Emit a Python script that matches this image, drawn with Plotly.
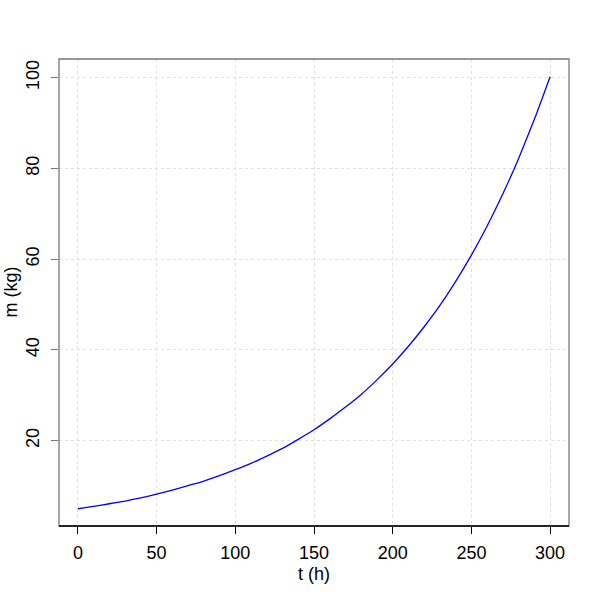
import plotly.graph_objects as go

t_h = [0, 10, 20, 30, 40, 50, 60, 70, 80, 90, 100, 110, 120, 130, 140, 150,
       160, 170, 180, 190, 200, 210, 220, 230, 240, 250, 260, 270, 280, 290, 300]
m_kg = [5.0, 5.5, 6.1, 6.7, 7.4, 8.2, 9.1, 10.1, 11.1, 12.3, 13.6, 15.0, 16.6, 18.3,
        20.3, 22.4, 24.8, 27.4, 30.2, 33.4, 36.9, 40.8, 45.1, 49.8, 55.1, 60.9,
        67.3, 74.4, 82.2, 90.8, 100.2]
x_ticks = [0, 50, 100, 150, 200, 250, 300]
y_ticks = [20, 40, 60, 80, 100]
x_title = "t (h)"
y_title = "m (kg)"

fig = go.Figure()
fig.add_trace(go.Scatter(x=t_h, y=m_kg, mode="lines",
                         line=dict(color="blue", width=1.3, shape="spline", smoothing=0.5),
                         showlegend=False))

fam = "Liberation Sans, Arial, sans-serif"
font = dict(family=fam, size=18, color="black")
fig.update_layout(
    width=600, height=600,
    margin=dict(l=59, r=31, t=59, b=74, autoexpand=False),
    plot_bgcolor="white", paper_bgcolor="white",
    font=font,
    xaxis=dict(range=[-12, 312], tickvals=x_ticks, ticks="outside", ticklen=7,
               tickcolor="black", showline=False, zeroline=False, automargin=False,
               showgrid=True, gridcolor="#e0e0e0", griddash="dot", gridwidth=1,
               ticklabelstandoff=3),
    yaxis=dict(range=[1.2, 104.1], tickvals=y_ticks, ticks="outside", ticklen=7,
               tickcolor="#777777", tickangle=-90, showline=False, zeroline=False,
               automargin=False,
               showgrid=True, gridcolor="#e0e0e0", griddash="dot", gridwidth=1,
               ticklabelstandoff=5),
)
fig.add_annotation(text=x_title, xref="paper", yref="paper", x=0.5, y=0,
                   xanchor="center", yanchor="middle", yshift=-48, showarrow=False,
                   font=dict(family=fam, size=18, color="black"))
fig.add_annotation(text=y_title, xref="paper", yref="paper", x=0, y=0.5,
                   xanchor="center", yanchor="middle", xshift=-49, textangle=-90,
                   showarrow=False, font=dict(family=fam, size=18, color="black"))
fig.add_shape(type="rect", xref="paper", yref="paper", x0=0, y0=0, x1=1, y1=1,
              line=dict(color="#777777", width=1.3), layer="above")
fig.add_shape(type="line", xref="paper", yref="paper", x0=0, y0=0, x1=1, y1=0,
              line=dict(color="black", width=1.3), layer="above")
fig.write_html("out.html", config={"displayModeBar": False},
               post_script="document.body.style.margin='0px';")
